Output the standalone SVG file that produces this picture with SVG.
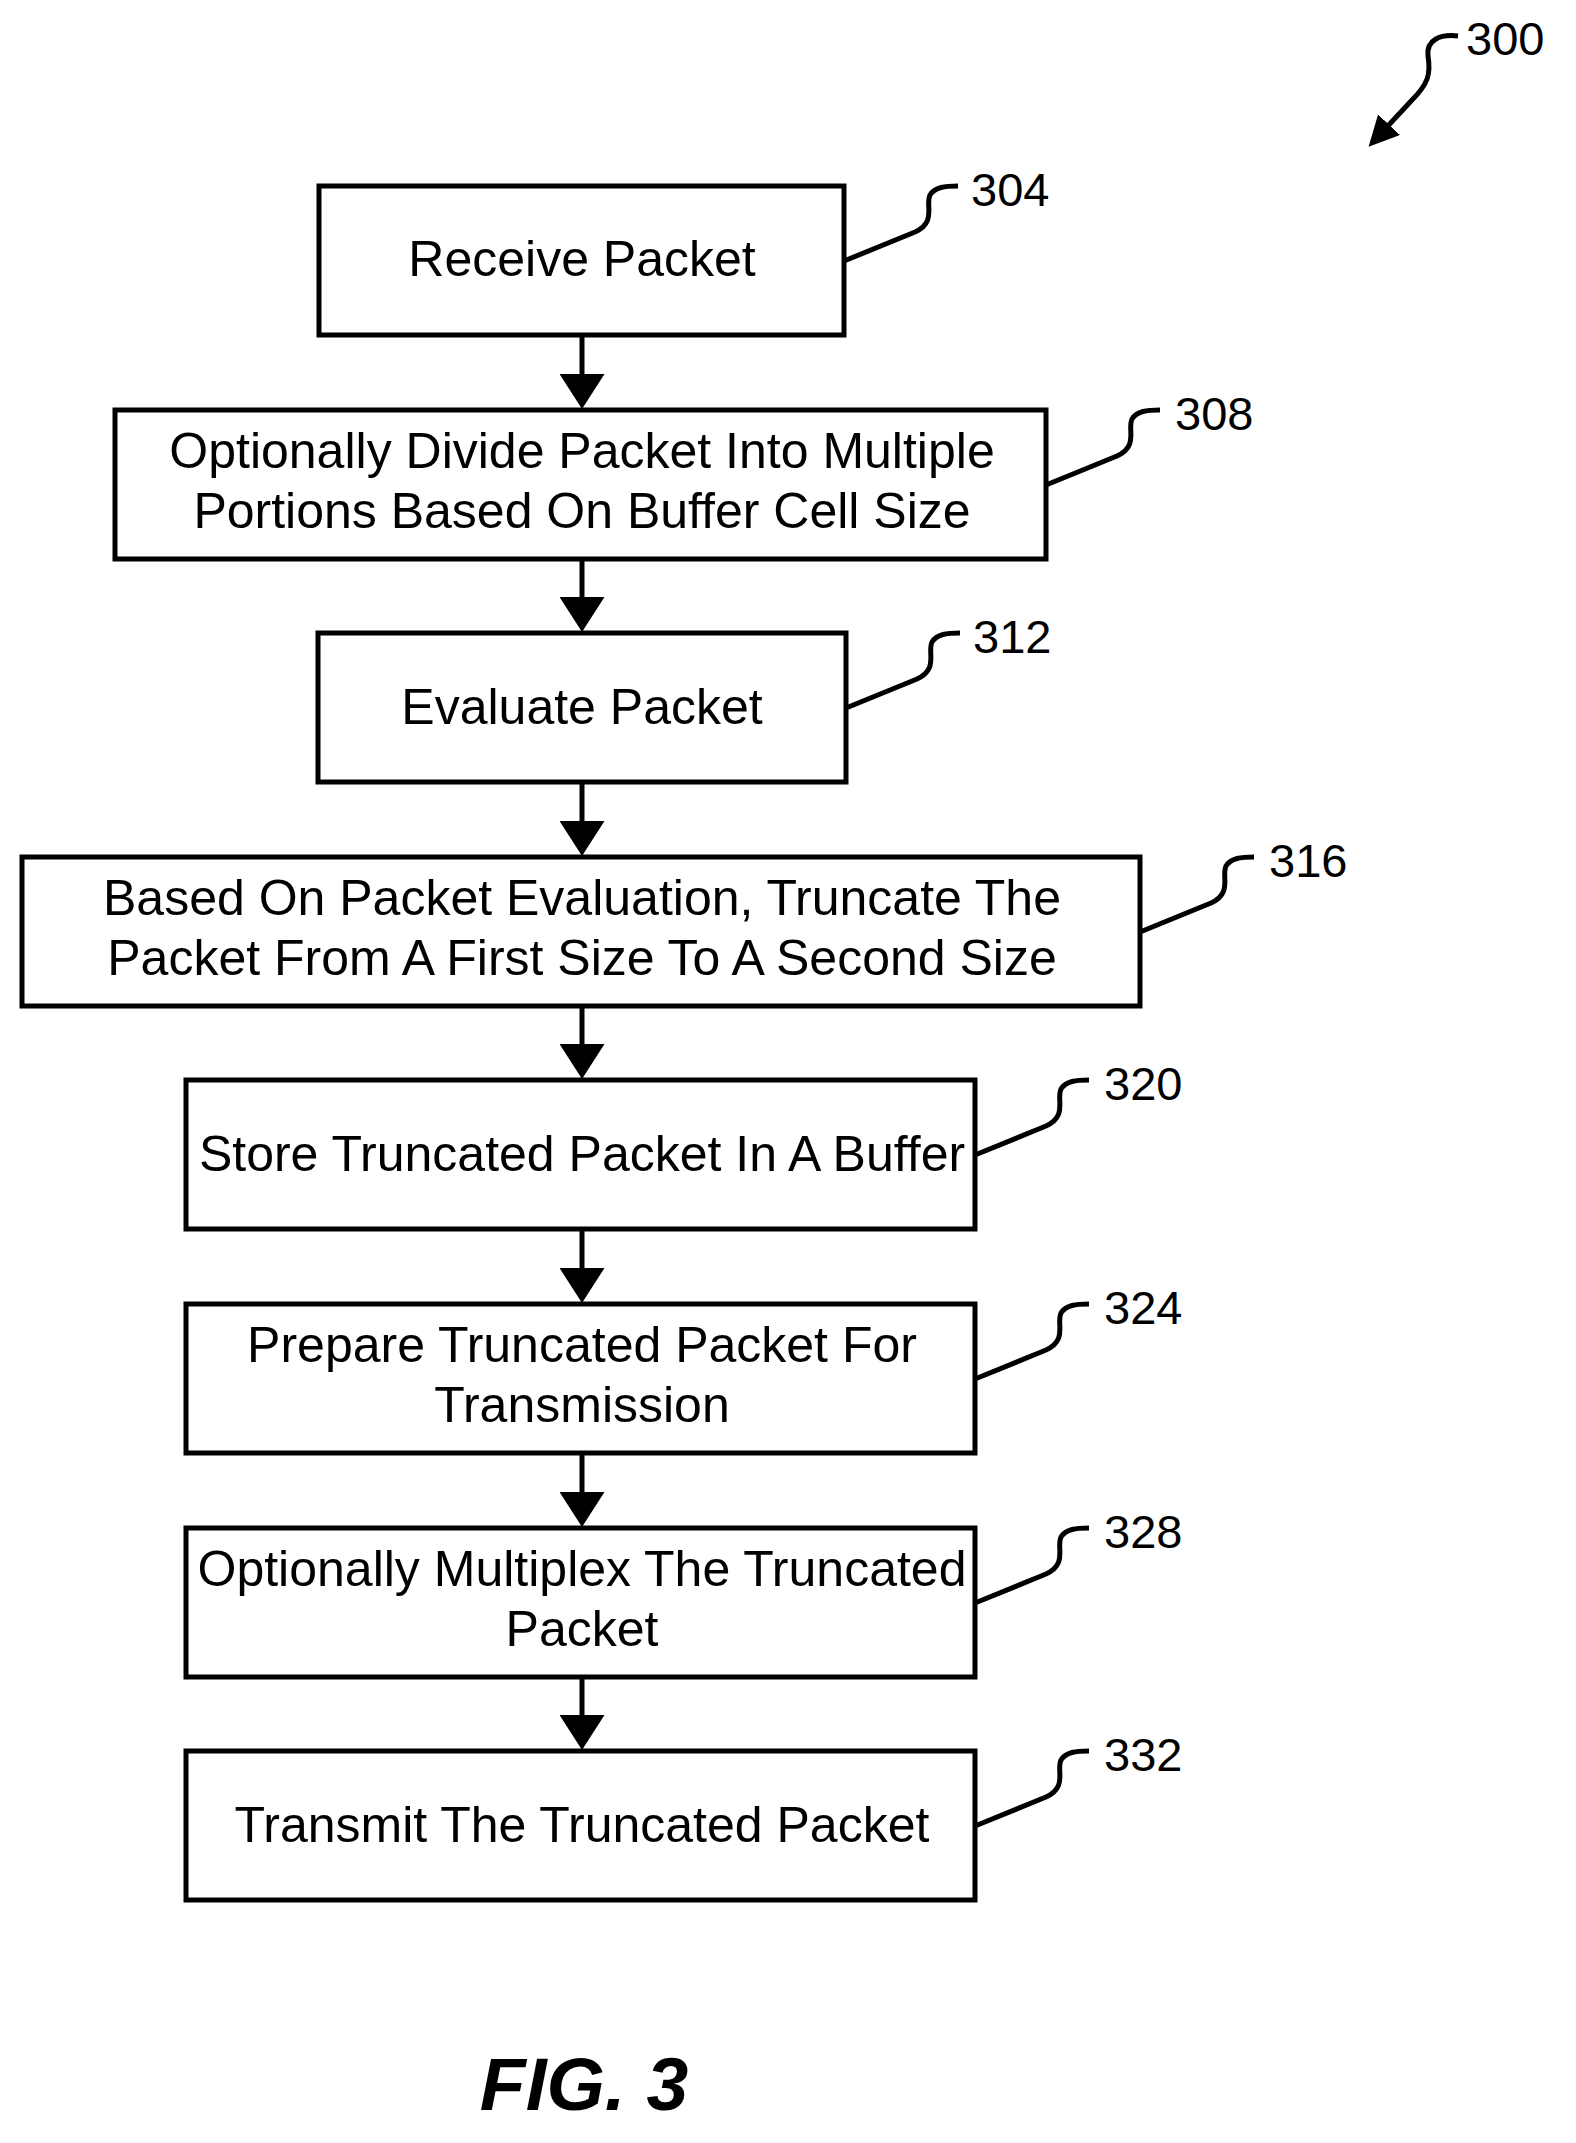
<svg xmlns="http://www.w3.org/2000/svg" width="1576" height="2143" viewBox="0 0 1576 2143">
<style>
.b{fill:#fff;stroke:#000;stroke-width:5}
.t{font-family:"Liberation Sans",Arial,sans-serif;font-size:50px;text-anchor:middle;fill:#000}
.n{font-family:"Liberation Sans",Arial,sans-serif;font-size:47px;fill:#000}
.l{fill:none;stroke:#000;stroke-width:5}
</style>
<defs>
<marker id="a" markerWidth="7" markerHeight="9" refX="6" refY="4.5" orient="auto" markerUnits="strokeWidth"><path d="M0,0 L7,4.5 L0,9 Z" fill="#000"/></marker>
<marker id="b" markerWidth="6" markerHeight="6" refX="5" refY="3" orient="auto" markerUnits="strokeWidth"><path d="M0,0 L6,3 L0,6 Z" fill="#000"/></marker>
</defs>
<g id="connectors" class="l">
<path d="M582,335 V404" marker-end="url(#a)"/>
<path d="M582,559 V627" marker-end="url(#a)"/>
<path d="M582,782 V851" marker-end="url(#a)"/>
<path d="M582,1006 V1074" marker-end="url(#a)"/>
<path d="M582,1229 V1298" marker-end="url(#a)"/>
<path d="M582,1453 V1522" marker-end="url(#a)"/>
<path d="M582,1677 V1745" marker-end="url(#a)"/>
<path d="M1458,36 C1440,34 1426,40 1428,56 C1431,74 1428,84 1412,100 L1372,143" marker-end="url(#b)"/>
</g>
<g id="n300"><text class="n" x="1466" y="55">300</text></g>
<g id="n304"><rect class="b" x="319" y="186" width="525" height="149"/><text class="t" x="582" y="276">Receive Packet</text>
<path class="l" d="M844,261 L915,232 C937,222 925,205 930,195 C935,187 945,186 958,186"/><text class="n" x="971" y="206">304</text></g>
<g id="n308"><rect class="b" x="115" y="410" width="931" height="149"/><text class="t" x="582" y="468">Optionally Divide Packet Into Multiple</text><text class="t" x="582" y="528">Portions Based On Buffer Cell Size</text>
<path class="l" d="M1046,485 L1117,456 C1139,446 1127,429 1132,419 C1137,411 1147,410 1160,410"/><text class="n" x="1175" y="430">308</text></g>
<g id="n312"><rect class="b" x="318" y="633" width="528" height="149"/><text class="t" x="582" y="724">Evaluate Packet</text>
<path class="l" d="M846,708 L917,679 C939,669 927,652 932,642 C937,634 947,633 960,633"/><text class="n" x="973" y="653">312</text></g>
<g id="n316"><rect class="b" x="22" y="857" width="1118" height="149"/><text class="t" x="582" y="915">Based On Packet Evaluation, Truncate The</text><text class="t" x="582" y="975">Packet From A First Size To A Second Size</text>
<path class="l" d="M1140,932 L1211,903 C1233,893 1221,876 1226,866 C1231,858 1241,857 1254,857"/><text class="n" x="1269" y="877">316</text></g>
<g id="n320"><rect class="b" x="186" y="1080" width="789" height="149"/><text class="t" x="582" y="1171">Store Truncated Packet In A Buffer</text>
<path class="l" d="M975,1155 L1046,1126 C1068,1116 1056,1099 1061,1089 C1066,1081 1076,1080 1089,1080"/><text class="n" x="1104" y="1100">320</text></g>
<g id="n324"><rect class="b" x="186" y="1304" width="789" height="149"/><text class="t" x="582" y="1362">Prepare Truncated Packet For</text><text class="t" x="582" y="1422">Transmission</text>
<path class="l" d="M975,1379 L1046,1350 C1068,1340 1056,1323 1061,1313 C1066,1305 1076,1304 1089,1304"/><text class="n" x="1104" y="1324">324</text></g>
<g id="n328"><rect class="b" x="186" y="1528" width="789" height="149"/><text class="t" x="582" y="1586">Optionally Multiplex The Truncated</text><text class="t" x="582" y="1646">Packet</text>
<path class="l" d="M975,1603 L1046,1574 C1068,1564 1056,1547 1061,1537 C1066,1529 1076,1528 1089,1528"/><text class="n" x="1104" y="1548">328</text></g>
<g id="n332"><rect class="b" x="186" y="1751" width="789" height="149"/><text class="t" x="582" y="1842">Transmit The Truncated Packet</text>
<path class="l" d="M975,1826 L1046,1797 C1068,1787 1056,1770 1061,1760 C1066,1752 1076,1751 1089,1751"/><text class="n" x="1104" y="1771">332</text></g>
<g id="fig"><text x="584" y="2110" style="font-family:'Liberation Sans',Arial,sans-serif;font-size:75px;font-weight:bold;font-style:italic;text-anchor:middle">FIG. 3</text></g>
</svg>
